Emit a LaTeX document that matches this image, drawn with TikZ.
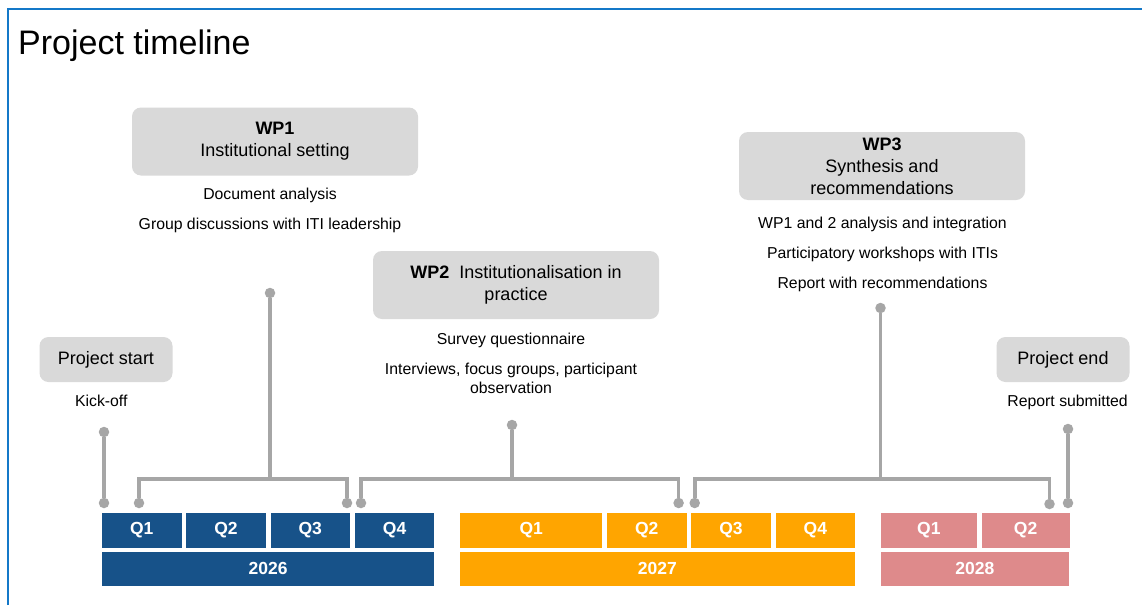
\documentclass[tikz,border=0pt]{standalone}
\usepackage{fontspec}
\setmainfont{Liberation Sans}
\usetikzlibrary{positioning}

\definecolor{yearblue}{HTML}{175289}
\definecolor{yearorange}{HTML}{FFA500}
\definecolor{yearpink}{HTML}{DE8A8B}
\definecolor{boxgray}{HTML}{D9D9D9}
\definecolor{linegray}{HTML}{A6A6A6}
\definecolor{frameblue}{HTML}{1478C8}

\begin{document}
\begin{tikzpicture}[x=1pt, y=-1pt,
            node distance = 4.3pt,
            wpbox/.style = {fill=boxgray,rounded corners=9pt,align=center,
                inner sep=0pt,minimum width=286pt,minimum height=68pt,
                font=\fontsize{18}{22}\selectfont},
            milebox/.style = {wpbox,minimum width=133pt,minimum height=45pt},
            items/.style = {align=center,inner sep=0pt,
                font=\fontsize{15.8}{19}\selectfont},
            quarter/.style = {text=white,inner sep=0pt,minimum height=34.6pt,
                font=\bfseries\fontsize{17.5}{20}\selectfont},
            q26/.style = {quarter,fill=yearblue,minimum width=79.6pt},
            q27/.style = {quarter,fill=yearorange,minimum width=79.6pt},
            q28/.style = {quarter,fill=yearpink},
            year/.style = {quarter,anchor=north west},
            dot/.style = {circle,fill=linegray,inner sep=0pt,minimum size=10.5pt},
            link/.style = {draw=linegray,line width=3.6pt}]
            \path[use as bounding box,fill=white] (0,0) rectangle (1142,605);
            \draw[frameblue,line width=2pt] (7.5,605) -- (7.5,9.3) -- (1142,9.3);
            \node[anchor=base west,inner sep=0pt,font=\fontsize{34}{40}\selectfont]
                (title) at (18,54.3) {Project timeline};
            % boxes
            \node[milebox](start) at (106,359.5) {Project start};
            \node[wpbox](wp1) at (275,141.5) {\textbf{WP1}\\Institutional setting};
            \node[wpbox](wp2) at (516,285) {\textbf{WP2}\ \ Institutionalisation in\\practice};
            \node[wpbox](wp3) at (882,166) {\textbf{WP3}\\Synthesis and\\recommendations};
            \node[milebox](end) at (1063,359.5) {Project end};
            % tasks
            \node[items,below=13pt of start,xshift=-4.7pt](startitems) {Kick-off};
            \node[items,below=12pt of wp1,xshift=-5pt](wp1items)
                {Document analysis\\[11pt]Group discussions with ITI leadership};
            \node[items,below=14pt of wp2,xshift=-5pt](wp2items)
                {Survey questionnaire\\[11pt]Interviews, focus groups, participant\\observation};
            \node[items,below=17pt of wp3,xshift=0.5pt](wp3items)
                {WP1 and 2 analysis and integration\\[11pt]Participatory workshops with ITIs\\[11pt]Report with recommendations};
            \node[items,below=13pt of end,xshift=4.6pt](enditems) {Report submitted};
            % quarters
            \node[q26,anchor=north west](q26a) at (101.7,512.7) {Q1};
            \node[q26,right=of q26a](q26b) {Q2};
            \node[q26,right=of q26b](q26c) {Q3};
            \node[q26,right=of q26c](q26d) {Q4};
            \node[q27,anchor=north west,minimum width=142pt](q27a) at (460,512.7) {Q1};
            \node[q27,right=of q27a](q27b) {Q2};
            \node[q27,right=of q27b](q27c) {Q3};
            \node[q27,right=of q27c](q27d) {Q4};
            \node[q28,anchor=north west,minimum width=96.4pt](q28a) at (880.4,512.7) {Q1};
            \node[q28,right=4.2pt of q28a,minimum width=88pt](q28b) {Q2};
            % years
            \node[year,fill=yearblue,minimum width=332.3pt](y26) at (101.7,551.3) {2026};
            \node[year,fill=yearorange,minimum width=394.5pt](y27) at (460,551.3) {2027};
            \node[year,fill=yearpink,minimum width=188.6pt](y28) at (880.4,551.3) {2028};
            % connectors
            \node[dot](s1) at (104,432) {};
            \node[dot](s2) at (104,503) {};
            \node[dot](w1top) at (270,293) {};
            \node[dot](w1a) at (139,503) {};
            \node[dot](w1b) at (347,503) {};
            \node[dot](w2top) at (512,425) {};
            \node[dot](w2a) at (361,503) {};
            \node[dot](w2b) at (678.6,503) {};
            \node[dot](w3top) at (880.5,308) {};
            \node[dot](w3a) at (694.7,503) {};
            \node[dot](w3b) at (1049.5,504) {};
            \node[dot](e1) at (1068,429) {};
            \node[dot](e2) at (1068,503) {};
            \coordinate (w1j) at (270,479);
            \coordinate (w2j) at (512,479);
            \coordinate (w3j) at (880.5,479);
            \path[link]
                (s1) edge (s2)
                (w1j) edge (w1top)
                (w2j) edge (w2top)
                (w3j) edge (w3top)
                (e1) edge (e2);
            \draw[link] (w1a) |- (w1j) -| (w1b);
            \draw[link] (w2a) |- (w2j) -| (w2b);
            \draw[link] (w3a) |- (w3j) -| (w3b);
        \end{tikzpicture}
\end{document}
